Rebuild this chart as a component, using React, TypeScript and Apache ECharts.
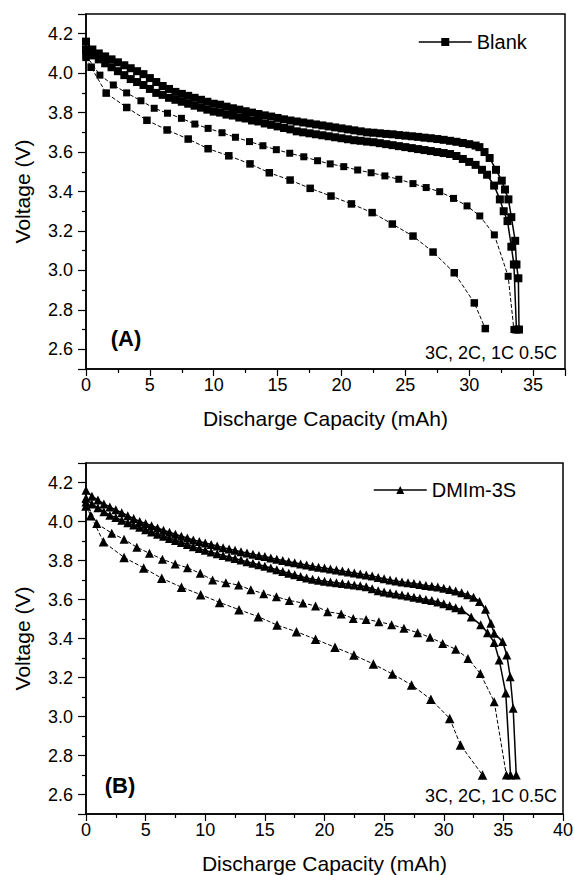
import React, { useEffect, useRef } from "react";
import * as echarts from "echarts";

const FONT = '"Liberation Sans", Arial, Helvetica, sans-serif';

// Panel (A) Blank — discharge capacity (mAh), voltage (V)
const blank05C: number[][] = [[0,4.16],[0.5,4.12],[1,4.10],[1.5,4.085],[2,4.07],[2.5,4.055],[3,4.04],[3.5,4.025],[4,4.01],[4.5,3.995],[5,3.975],[5.5,3.955],[6,3.935],[6.5,3.92],[7,3.905],[7.5,3.895],[8,3.885],[8.5,3.875],[9,3.865],[9.5,3.855],[10,3.845],[10.5,3.84],[11,3.83],[11.5,3.822],[12,3.815],[12.5,3.807],[13,3.80],[13.5,3.793],[14,3.786],[14.5,3.78],[15,3.773],[15.5,3.766],[16,3.76],[16.5,3.755],[17,3.75],[17.5,3.745],[18,3.74],[18.5,3.735],[19,3.73],[19.5,3.725],[20,3.72],[20.5,3.715],[21,3.71],[21.5,3.705],[22,3.70],[22.5,3.698],[23,3.695],[23.5,3.692],[24,3.69],[24.5,3.686],[25,3.683],[25.5,3.68],[26,3.677],[26.5,3.673],[27,3.67],[27.5,3.666],[28,3.662],[28.5,3.657],[29,3.652],[29.5,3.646],[30,3.64],[30.5,3.633],[30.8,3.625],[31.2,3.60],[31.6,3.57],[32.1,3.51],[32.55,3.455],[32.8,3.41],[33.07,3.36],[33.3,3.27],[33.6,3.15],[33.7,3.03],[33.85,2.96],[33.9,2.70]];
const blank1C: number[][] = [[0,4.12],[0.5,4.09],[1,4.07],[1.5,4.05],[2,4.03],[2.5,4.01],[3,3.99],[3.5,3.97],[4,3.955],[4.5,3.94],[5,3.92],[5.5,3.90],[6,3.89],[6.5,3.875],[7,3.865],[7.5,3.855],[8,3.845],[8.5,3.835],[9,3.825],[9.5,3.815],[10,3.805],[10.5,3.80],[11,3.79],[11.5,3.785],[12,3.775],[12.5,3.77],[13,3.76],[13.5,3.755],[14,3.745],[14.5,3.738],[15,3.73],[15.5,3.722],[16,3.715],[16.5,3.705],[17,3.70],[17.5,3.695],[18,3.69],[18.5,3.685],[19,3.68],[19.5,3.675],[20,3.67],[20.5,3.665],[21,3.66],[21.5,3.657],[22,3.653],[22.5,3.65],[23,3.645],[23.5,3.64],[24,3.635],[24.5,3.63],[25,3.625],[25.5,3.62],[26,3.615],[26.5,3.61],[27,3.605],[27.5,3.60],[28,3.595],[28.5,3.59],[29,3.58],[29.5,3.565],[30,3.55],[30.5,3.535],[31,3.51],[31.4,3.485],[31.95,3.43],[32.4,3.36],[32.7,3.30],[33.0,3.25],[33.3,3.12],[33.5,3.03],[33.7,2.70]];
const blank2C: number[][] = [[0,4.09],[1.09,3.99],[2.14,3.94],[3.18,3.90],[4.3,3.86],[5.34,3.822],[6.38,3.797],[7.47,3.771],[8.52,3.742],[9.56,3.72],[10.65,3.698],[11.7,3.675],[12.8,3.653],[13.85,3.632],[14.9,3.612],[15.95,3.594],[17.05,3.576],[18.13,3.556],[19.12,3.54],[20.18,3.526],[21.27,3.509],[22.32,3.495],[23.4,3.479],[24.49,3.462],[25.6,3.44],[26.63,3.42],[27.69,3.399],[28.77,3.365],[29.83,3.327],[30.83,3.276],[31.97,3.18],[33.05,2.97],[33.5,2.70]];
const blank3C: number[][] = [[0,4.08],[0.4,4.03],[1.58,3.899],[3.19,3.826],[4.77,3.761],[6.35,3.712],[8.0,3.666],[9.56,3.617],[11.18,3.581],[12.84,3.54],[14.35,3.495],[15.98,3.458],[17.55,3.416],[19.18,3.377],[20.78,3.337],[22.4,3.293],[23.98,3.235],[25.6,3.174],[27.17,3.093],[28.83,2.988],[30.4,2.835],[31.26,2.705]];

// Panel (B) DMIm-3S
const dmim05C: number[][] = [[0,4.16],[0.5,4.13],[1,4.11],[1.5,4.09],[2,4.075],[2.5,4.06],[3,4.045],[3.5,4.03],[4,4.015],[4.5,4.0],[5,3.99],[5.5,3.978],[6,3.967],[6.5,3.955],[7,3.945],[7.5,3.935],[8,3.925],[8.5,3.915],[9,3.905],[9.5,3.897],[10,3.89],[10.5,3.882],[11,3.874],[11.5,3.866],[12,3.859],[12.5,3.852],[13,3.845],[13.5,3.838],[14,3.832],[14.5,3.826],[15,3.82],[15.5,3.813],[16,3.806],[16.5,3.8],[17,3.794],[17.5,3.788],[18,3.782],[18.5,3.777],[19,3.771],[19.5,3.766],[20,3.761],[20.5,3.756],[21,3.751],[21.5,3.746],[22,3.741],[22.5,3.736],[23,3.731],[23.5,3.726],[24,3.72],[24.5,3.713],[25,3.706],[25.5,3.70],[26,3.695],[26.5,3.69],[27,3.686],[27.5,3.682],[28,3.677],[28.5,3.672],[29,3.668],[29.5,3.664],[30,3.658],[30.5,3.651],[31,3.643],[31.5,3.635],[32,3.625],[32.5,3.612],[33,3.59],[33.5,3.55],[33.95,3.478],[34.23,3.427],[34.93,3.384],[35.29,3.315],[35.57,3.204],[35.82,3.042],[36.08,2.70]];
const dmim1C: number[][] = [[0,4.12],[0.5,4.09],[1,4.07],[1.5,4.05],[2,4.032],[2.5,4.02],[3,4.006],[3.5,3.994],[4,3.982],[4.5,3.97],[5,3.958],[5.5,3.946],[6,3.935],[6.5,3.924],[7,3.913],[7.5,3.902],[8,3.892],[8.5,3.882],[9,3.871],[9.5,3.861],[10,3.852],[10.5,3.843],[11,3.835],[11.5,3.826],[12,3.818],[12.5,3.81],[13,3.802],[13.5,3.794],[14,3.786],[14.5,3.778],[15,3.77],[15.5,3.762],[16,3.753],[16.5,3.744],[17,3.735],[17.5,3.727],[18,3.718],[18.5,3.71],[19,3.704],[19.5,3.699],[20,3.694],[20.5,3.69],[21,3.686],[21.5,3.682],[22,3.678],[22.5,3.674],[23,3.67],[23.5,3.665],[24,3.655],[24.5,3.645],[25,3.638],[25.5,3.633],[26,3.628],[26.5,3.623],[27,3.618],[27.5,3.612],[28,3.606],[28.5,3.6],[29,3.595],[29.5,3.587],[30,3.578],[30.5,3.568],[31,3.558],[31.5,3.548],[32.3,3.51],[33.1,3.47],[33.67,3.43],[34.23,3.38],[34.65,3.29],[35.2,3.12],[35.6,2.70]];
const dmim2C: number[][] = [[0,4.1],[0.9,3.99],[2.16,3.94],[3.19,3.909],[4.26,3.868],[5.32,3.837],[6.41,3.806],[7.48,3.782],[8.51,3.763],[9.58,3.734],[10.62,3.70],[11.73,3.686],[12.8,3.674],[13.82,3.65],[14.9,3.63],[15.97,3.614],[17.05,3.595],[18.19,3.582],[19.25,3.567],[20.26,3.537],[21.4,3.526],[22.41,3.503],[23.49,3.498],[24.56,3.486],[25.63,3.471],[26.66,3.452],[27.81,3.43],[28.85,3.406],[29.91,3.375],[31.0,3.345],[32.03,3.298],[33.07,3.22],[34.23,3.076],[35.25,2.70]];
const dmim3C: number[][] = [[0,4.08],[0.4,4.03],[1.46,3.896],[3.19,3.816],[4.84,3.762],[6.35,3.709],[8.01,3.663],[9.62,3.625],[11.2,3.585],[12.83,3.548],[14.45,3.512],[16.02,3.469],[17.65,3.435],[19.25,3.396],[20.88,3.355],[22.47,3.315],[24.1,3.269],[25.7,3.218],[27.3,3.162],[28.92,3.088],[30.5,2.99],[31.4,2.854],[33.25,2.70]];

const RATE_NOTE = "3C, 2C, 1C 0.5C";
const X_NAME = "Discharge Capacity (mAh)";
const Y_NAME = "Voltage (V)";

function xAxisCfg(gridIndex: number, max: number, showMax: boolean) {
  return {
    type: "value", gridIndex, min: 0, max, interval: 5,
    name: X_NAME, nameLocation: "middle", nameGap: 39,
    nameTextStyle: { fontSize: 21, color: "#000", fontFamily: FONT },
    axisLine: { show: true, onZero: false, lineStyle: { color: "#000", width: 1.5 } },
    axisTick: { show: true, inside: false, length: 7, lineStyle: { color: "#000", width: 1.2 } },
    minorTick: { show: true, splitNumber: 2, length: 4, lineStyle: { color: "#000", width: 1.2 } },
    axisLabel: { showMaxLabel: showMax, margin: 7, fontSize: 18, color: "#000", fontFamily: FONT },
    splitLine: { show: false },
  };
}

function yAxisCfg(gridIndex: number) {
  return {
    type: "value", gridIndex, min: 2.5, max: 4.3, splitNumber: 9,
    name: Y_NAME, nameLocation: "middle", nameGap: 53,
    nameTextStyle: { fontSize: 21, color: "#000", fontFamily: FONT },
    axisLine: { show: true, onZero: false, lineStyle: { color: "#000", width: 1.5 } },
    axisTick: { show: true, inside: false, length: 8, lineStyle: { color: "#000", width: 1.2 } },
    minorTick: { show: true, splitNumber: 2, length: 4, lineStyle: { color: "#000", width: 1.2 } },
    axisLabel: {
      showMinLabel: false, showMaxLabel: false, margin: 13, fontSize: 18, color: "#000", fontFamily: FONT,
      formatter: (v: number) => v.toFixed(1),
    },
    splitLine: { show: false },
  };
}

function series(name: string, data: number[][], idx: number, symbol: string, size: number, dashed: boolean, width: number) {
  return {
    type: "line", name, data, xAxisIndex: idx, yAxisIndex: idx,
    symbol, symbolSize: size, showSymbol: true, showAllSymbol: true, silent: true,
    itemStyle: { color: "#000" },
    lineStyle: { color: "#000", width, type: dashed ? [4, 2] : "solid" },
  };
}

export default function App() {
  const ref = useRef<HTMLDivElement>(null);
  useEffect(() => {
    document.body.style.margin = "0";
    const chart = echarts.init(ref.current!, null, { renderer: "svg" });
    const legendCommon = {
      orient: "horizontal", itemWidth: 53, itemHeight: 10, itemGap: 0, padding: 0,
      selectedMode: false,
      lineStyle: { color: "#000", width: 1.5, type: "solid" },
      itemStyle: { color: "#000" },
      textStyle: { fontSize: 20, color: "#000", fontFamily: FONT },
    };
    chart.setOption({
      animation: false,
      backgroundColor: "#fff",
      textStyle: { fontFamily: FONT, color: "#000" },
      grid: [
        { left: 86, top: 14, width: 479, height: 355, show: true, borderColor: "#000", borderWidth: 1.5, backgroundColor: "transparent", outerBoundsMode: "none", containLabel: false },
        { left: 86, top: 463, width: 477, height: 351, show: true, borderColor: "#000", borderWidth: 1.5, backgroundColor: "transparent", outerBoundsMode: "none", containLabel: false },
      ],
      xAxis: [xAxisCfg(0, 37.5, false), xAxisCfg(1, 40, true)],
      yAxis: [yAxisCfg(0), yAxisCfg(1)],
      legend: [
        { ...legendCommon, data: ["Blank"], left: 418, top: 32 },
        { ...legendCommon, data: ["DMIm-3S"], left: 373, top: 480 },
      ],
      series: [
        series("Blank", blank05C, 0, "rect", 8, false, 1.5),
        series("Blank", blank1C, 0, "rect", 8, false, 1.5),
        series("Blank", blank2C, 0, "rect", 7, true, 1),
        series("Blank", blank3C, 0, "rect", 7.5, true, 1),
        series("DMIm-3S", dmim05C, 1, "triangle", 9, false, 1.5),
        series("DMIm-3S", dmim1C, 1, "triangle", 9, false, 1.5),
        series("DMIm-3S", dmim2C, 1, "triangle", 9, true, 1),
        series("DMIm-3S", dmim3C, 1, "triangle", 9.5, true, 1),
      ],
      graphic: [
        { type: "text", x: 126, y: 338, style: { text: "(A)", font: `bold 22px ${FONT}`, fill: "#000", align: "center", verticalAlign: "middle" } },
        { type: "text", x: 557, y: 353, style: { text: RATE_NOTE, font: `18px ${FONT}`, fill: "#000", align: "right", verticalAlign: "middle" } },
        { type: "text", x: 120, y: 785, style: { text: "(B)", font: `bold 22px ${FONT}`, fill: "#000", align: "center", verticalAlign: "middle" } },
        { type: "text", x: 557, y: 796, style: { text: RATE_NOTE, font: `18px ${FONT}`, fill: "#000", align: "right", verticalAlign: "middle" } },
      ],
    });
    return () => chart.dispose();
  }, []);
  return <div ref={ref} style={{ width: 573, height: 875 }} />;
}
